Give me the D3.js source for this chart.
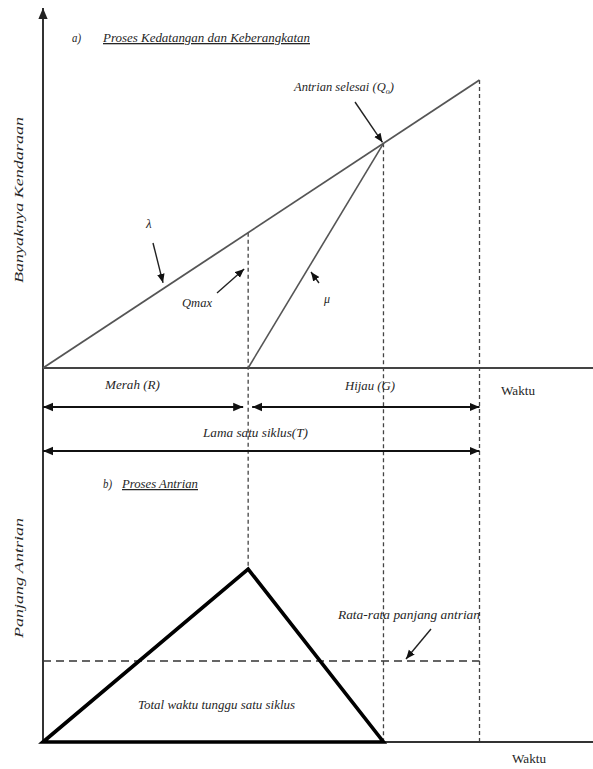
<!DOCTYPE html>
<html>
<head>
<meta charset="utf-8">
<script src="https://cdn.jsdelivr.net/npm/d3@7/dist/d3.min.js"></script>
<style>
  html, body { margin: 0; padding: 0; background: #fff; }
  svg { display: block; }
  text { font-style: italic; fill: #262626; }
</style>
</head>
<body>
<svg id="chart" width="593" height="769"></svg>
<script>
// Signalised intersection: one cycle of arrivals, departures and queue length.
const cyclePhases = ["Merah (R)", "Hijau (G)"];
const phaseBounds = [0, 47, 100];           // start red, start green, end of cycle T
const arrivalRate = [0, 100];               // cumulative arrivals at t = 0 and t = T (λ)
const departureTimes = [47, 78];            // departures start at R and catch up at Q0
const departureCounts = [0, 78];
const queueTimes = [0, 47, 78];
const queueLengths = [0, 47, 0];
const averageQueue = 22;
const axisLabels = ["Banyaknya Kendaraan", "Panjang Antrian", "Waktu"];

const svg = d3.select("#chart");
const serif = "'Liberation Serif', 'Times New Roman', serif";

// Shared time axis, separate vertical scales for the two panels
const x = d3.scaleLinear().domain([0, 126]).range([43, 593]);
const yUp = d3.scaleLinear().domain([0, 125]).range([368, 8]);
const yLow = d3.scaleLinear().domain([0, 50]).range([742, 558]);

const defs = svg.append("defs");
function marker(id, size, color) {
  defs.append("marker")
    .attr("id", id).attr("viewBox", "0 0 10 10")
    .attr("refX", 10).attr("refY", 5)
    .attr("markerWidth", size).attr("markerHeight", size)
    .attr("markerUnits", "userSpaceOnUse")
    .attr("orient", "auto-start-reverse")
    .append("path").attr("d", "M0,0.8L10,5L0,9.2Z").attr("fill", color);
}
marker("head", 10, "#111");
marker("tip", 9, "#111");
marker("axisHead", 11, "#222");

const line = d3.line();

// Arrival cumulative curve λ
const T = phaseBounds[2];
const arrivalsAt = t => arrivalRate[0] + (arrivalRate[1] - arrivalRate[0]) * t / T;

// Dashed guide lines
const vDash = "4,3";
[
  [phaseBounds[1], yUp(arrivalsAt(phaseBounds[1])), yLow(queueLengths[1])],
  [departureTimes[1], yUp(departureCounts[1]), yLow(0)],
  [T, yUp(arrivalsAt(T)), yLow(0)]
].forEach(([t, y0, y1]) => {
  svg.append("line")
    .attr("x1", x(t)).attr("x2", x(t)).attr("y1", y0).attr("y2", y1)
    .attr("stroke", "#444").attr("stroke-width", 1.3).attr("stroke-dasharray", vDash);
});

// Average queue length line
svg.append("line")
  .attr("x1", x(0)).attr("x2", x(T))
  .attr("y1", yLow(averageQueue)).attr("y2", yLow(averageQueue))
  .attr("stroke", "#333").attr("stroke-width", 1.6).attr("stroke-dasharray", "8,5");

// Vertical axis (shared) with arrow
svg.append("line")
  .attr("x1", x(0)).attr("x2", x(0)).attr("y1", yLow(0) + 1).attr("y2", 8)
  .attr("stroke", "#333").attr("stroke-width", 2).attr("marker-end", "url(#axisHead)");

// Horizontal axes
svg.append("line")
  .attr("x1", x(0)).attr("x2", x(126)).attr("y1", yUp(0)).attr("y2", yUp(0))
  .attr("stroke", "#444").attr("stroke-width", 2.2);
svg.append("line")
  .attr("x1", x(0)).attr("x2", x(126)).attr("y1", yLow(0)).attr("y2", yLow(0))
  .attr("stroke", "#333").attr("stroke-width", 2);

// Arrivals λ
svg.append("path")
  .attr("d", line([[x(0), yUp(arrivalsAt(0))], [x(T), yUp(arrivalsAt(T))]]))
  .attr("fill", "none").attr("stroke", "#555").attr("stroke-width", 1.8);

// Departures μ
svg.append("path")
  .attr("d", line(departureTimes.map((t, i) => [x(t), yUp(departureCounts[i])])))
  .attr("fill", "none").attr("stroke", "#555").attr("stroke-width", 1.6);

// Queue length triangle
svg.append("path")
  .attr("d", line(queueTimes.map((t, i) => [x(t), yLow(queueLengths[i])])) + "Z")
  .attr("fill", "none").attr("stroke", "#000").attr("stroke-width", 3.6)
  .attr("stroke-linejoin", "miter");

// Phase duration arrows
function span(t0, t1, y, gap0, gap1) {
  svg.append("line")
    .attr("x1", x(t0) + gap0).attr("x2", x(t1) - gap1).attr("y1", y).attr("y2", y)
    .attr("stroke", "#111").attr("stroke-width", 2)
    .attr("marker-start", "url(#head)").attr("marker-end", "url(#head)");
}
span(phaseBounds[0], phaseBounds[1], 407, 0, 5);
span(phaseBounds[1], phaseBounds[2], 407, 4, 0);
span(phaseBounds[0], phaseBounds[2], 451, 0, 0);

// Pointer arrows
function pointer(x0, y0, x1, y1) {
  svg.append("line")
    .attr("x1", x0).attr("y1", y0).attr("x2", x1).attr("y2", y1)
    .attr("stroke", "#222").attr("stroke-width", 1.4).attr("marker-end", "url(#tip)");
}
pointer(355, 102, x(departureTimes[1]) - 1, yUp(departureCounts[1]) - 1);   // Q0
pointer(153, 243, x(27.5), yUp(arrivalsAt(27.5)) - 6);                       // λ
pointer(217, 293, x(phaseBounds[1]) - 4, 269);                               // Qmax
pointer(319, 283, 311, 272);                                                 // μ
pointer(431, 629, 406, yLow(averageQueue) - 2);                              // average

// Text helper with fitted width
function label(txt, x0, y0, w, size, opts = {}) {
  const t = svg.append("text")
    .attr("x", x0).attr("y", y0)
    .attr("font-family", serif)
    .attr("font-size", size)
    .text(txt);
  if (w) t.attr("textLength", w).attr("lengthAdjust", "spacingAndGlyphs");
  if (opts.anchor) t.attr("text-anchor", opts.anchor);
  if (opts.upright) t.style("font-style", "normal");
  if (opts.underline) t.attr("text-decoration", "underline");
  if (opts.rotate) t.attr("transform", `rotate(-90,${x0},${y0})`);
  return t;
}

label("a)", 72, 42, 9, 12);
label("Proses Kedatangan dan Keberangkatan", 103, 42, 207, 13, { underline: true });

const q0 = svg.append("text").attr("x", 294).attr("y", 91)
  .attr("font-family", serif).attr("font-size", 12.5);
q0.append("tspan").text("Antrian selesai  (Q");
q0.append("tspan").attr("font-size", 8).attr("dy", 3).text("o");
q0.append("tspan").attr("dy", -3).text(")");

label("λ", 146, 228, null, 13);
label("Qmax", 182, 307, 30, 12.5);
label("μ", 324, 303, null, 12);

label(cyclePhases[0], 105, 389, 55, 12.5);
label(cyclePhases[1], 345, 390, 50, 12.5);
label(axisLabels[2], 501, 395, 34, 12.5, { upright: true });
label("Lama satu siklus(T)", 203, 437, 105, 12.5);

label("b)", 103, 488, 9, 12);
label("Proses Antrian", 122, 488, 76, 12.5, { underline: true });

label("Rata-rata panjang antrian", 338, 619, 142, 12.5);
label("Total waktu tunggu satu siklus", 138, 709, 157, 12.5);
label(axisLabels[2], 512, 763, 34, 12.5, { upright: true });

label(axisLabels[0], 23, 200, 166, 13.5, { anchor: "middle", rotate: true });
label(axisLabels[1], 23, 578, 120, 13.5, { anchor: "middle", rotate: true });
</script>
</body>
</html>
